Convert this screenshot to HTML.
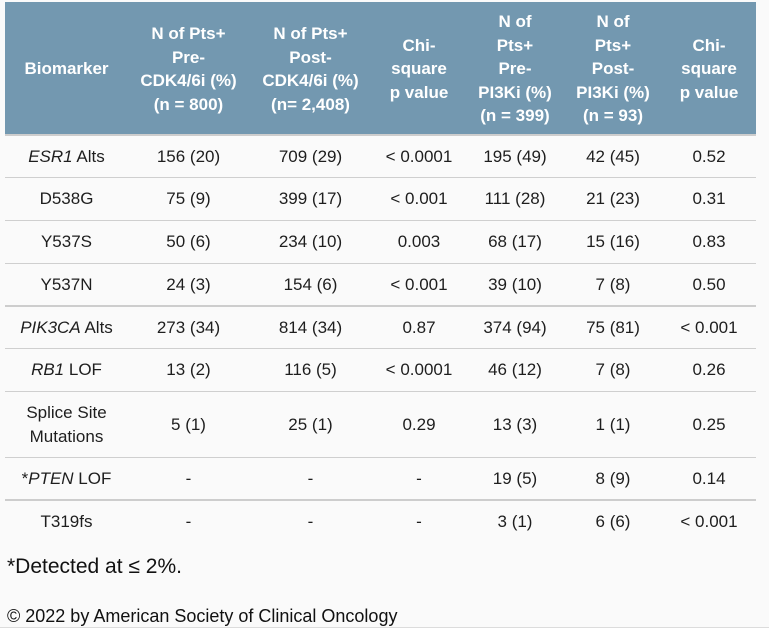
<!DOCTYPE html>
<html>
<head>
<meta charset="utf-8">
<style>
  html,body{margin:0;padding:0;}
  body{width:769px;height:628px;background:#fafafa;position:relative;overflow:hidden;
    font-family:"Liberation Sans",Arial,sans-serif;color:#1e1e1e;}
  .tbl{position:absolute;left:5px;top:2px;width:751px;}
  .row{display:flex;box-sizing:content-box;}
  .c{display:flex;align-items:center;justify-content:center;text-align:center;}
  .w1{width:123px}.w2{width:121px}.w3{width:123px}.w4{width:94px}.w5{width:98px}.w6{width:98px}.w7{width:94px}
  .hdr{background:#7398b0;height:132px;border-bottom:2px solid #cdcdcd;color:#fff;font-weight:bold;font-size:17px;line-height:23.5px;}
  .hdr .c{padding-top:2px;box-sizing:border-box;}
  .body{font-size:17px;line-height:24px;}
  .b1{border-bottom:1px solid #cfcfcf;}
  .b2{border-bottom:2px solid #cdcdcd;}
  i{font-style:italic;}
  .foot{position:absolute;left:7px;top:553px;font-size:21px;line-height:28px;color:#111;}
  .copy{position:absolute;left:7px;top:604px;font-size:18px;line-height:24px;color:#111;}
  .bot{position:absolute;left:0;top:627px;width:769px;height:1px;background:#dcdcdc;}
</style>
</head>
<body>
<div class="tbl">
  <div class="row hdr">
    <div class="c w1">Biomarker</div>
    <div class="c w2">N of Pts+<br>Pre-<br>CDK4/6i (%)<br>(n = 800)</div>
    <div class="c w3">N of Pts+<br>Post-<br>CDK4/6i (%)<br>(n= 2,408)</div>
    <div class="c w4">Chi-<br>square<br>p value</div>
    <div class="c w5">N of<br>Pts+<br>Pre-<br>PI3Ki (%)<br>(n = 399)</div>
    <div class="c w6">N of<br>Pts+<br>Post-<br>PI3Ki (%)<br>(n = 93)</div>
    <div class="c w7">Chi-<br>square<br>p value</div>
  </div>
  <div class="row body b1" style="height:41px">
    <div class="c w1"><span><i>ESR1</i> Alts</span></div>
    <div class="c w2">156 (20)</div><div class="c w3">709 (29)</div><div class="c w4">&lt; 0.0001</div>
    <div class="c w5">195 (49)</div><div class="c w6">42 (45)</div><div class="c w7">0.52</div>
  </div>
  <div class="row body b1" style="height:42px">
    <div class="c w1">D538G</div>
    <div class="c w2">75 (9)</div><div class="c w3">399 (17)</div><div class="c w4">&lt; 0.001</div>
    <div class="c w5">111 (28)</div><div class="c w6">21 (23)</div><div class="c w7">0.31</div>
  </div>
  <div class="row body b1" style="height:42px">
    <div class="c w1">Y537S</div>
    <div class="c w2">50 (6)</div><div class="c w3">234 (10)</div><div class="c w4">0.003</div>
    <div class="c w5">68 (17)</div><div class="c w6">15 (16)</div><div class="c w7">0.83</div>
  </div>
  <div class="row body b2" style="height:41px">
    <div class="c w1">Y537N</div>
    <div class="c w2">24 (3)</div><div class="c w3">154 (6)</div><div class="c w4">&lt; 0.001</div>
    <div class="c w5">39 (10)</div><div class="c w6">7 (8)</div><div class="c w7">0.50</div>
  </div>
  <div class="row body b1" style="height:41px">
    <div class="c w1"><span><i>PIK3CA</i> Alts</span></div>
    <div class="c w2">273 (34)</div><div class="c w3">814 (34)</div><div class="c w4">0.87</div>
    <div class="c w5">374 (94)</div><div class="c w6">75 (81)</div><div class="c w7">&lt; 0.001</div>
  </div>
  <div class="row body b1" style="height:42px">
    <div class="c w1"><span><i>RB1</i> LOF</span></div>
    <div class="c w2">13 (2)</div><div class="c w3">116 (5)</div><div class="c w4">&lt; 0.0001</div>
    <div class="c w5">46 (12)</div><div class="c w6">7 (8)</div><div class="c w7">0.26</div>
  </div>
  <div class="row body b1" style="height:65px">
    <div class="c w1">Splice Site<br>Mutations</div>
    <div class="c w2">5 (1)</div><div class="c w3">25 (1)</div><div class="c w4">0.29</div>
    <div class="c w5">13 (3)</div><div class="c w6">1 (1)</div><div class="c w7">0.25</div>
  </div>
  <div class="row body b2" style="height:41px">
    <div class="c w1"><span>*<i>PTEN</i> LOF</span></div>
    <div class="c w2">-</div><div class="c w3">-</div><div class="c w4">-</div>
    <div class="c w5">19 (5)</div><div class="c w6">8 (9)</div><div class="c w7">0.14</div>
  </div>
  <div class="row body" style="height:41px">
    <div class="c w1">T319fs</div>
    <div class="c w2">-</div><div class="c w3">-</div><div class="c w4">-</div>
    <div class="c w5">3 (1)</div><div class="c w6">6 (6)</div><div class="c w7">&lt; 0.001</div>
  </div>
</div>
<div class="foot">*Detected at ≤ 2%.</div>
<div class="copy">© 2022 by American Society of Clinical Oncology</div>
<div class="bot"></div>
</body>
</html>
